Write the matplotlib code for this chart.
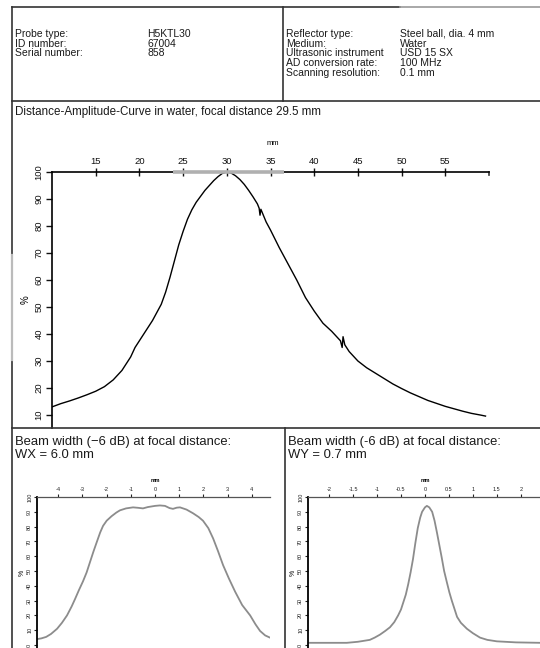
import matplotlib
matplotlib.use("Agg")
import matplotlib.pyplot as plt
from matplotlib.lines import Line2D

W, H = 540, 648
DPI = 100

# ---------------- data ----------------
header_left_labels = ["Probe type:", "ID number:", "Serial number:"]
header_left_values = ["H5KTL30", "67004", "858"]
header_right_labels = ["Reflector type:", "Medium:", "Ultrasonic instrument",
                       "AD conversion rate:", "Scanning resolution:"]
header_right_values = ["Steel ball, dia. 4 mm", "Water", "USD 15 SX", "100 MHz", "0.1 mm"]

dac_title = "Distance-Amplitude-Curve in water, focal distance 29.5 mm"
dac_x = [10.0, 11, 12, 13, 14, 15, 16, 17, 18, 19, 19.5, 20, 20.5, 21, 21.5, 22, 22.5, 23,
         23.5, 24, 24.5, 25, 25.5, 26, 26.5, 27, 27.5, 28, 28.5, 29, 29.5, 30, 30.5, 31,
         31.5, 32, 32.5, 33, 33.5, 33.7, 33.8, 33.9, 34.5, 35, 36, 37, 38, 39, 40, 41,
         42, 43, 43.2, 43.3, 43.5, 44, 45, 46, 47, 48, 49, 50, 51, 52, 53, 54, 55, 56,
         57, 58, 59, 59.6]
dac_y = [13.0, 14.2, 15.2, 16.3, 17.5, 18.8, 20.5, 23.0, 26.5, 31.5, 35.0, 37.5, 40.0,
         42.5, 45.0, 48.0, 51.0, 55.5, 61.0, 67.0, 73.0, 78.0, 82.5, 86.0, 88.8, 91.0,
         93.2, 95.0, 96.8, 98.3, 99.5, 100.0, 99.6, 98.6, 97.2, 95.4, 93.2, 90.8, 88.2,
         86.6, 84.0, 86.2, 81.5, 78.5, 72.0, 66.0, 60.0, 53.5, 48.5, 44.0, 41.0, 37.5,
         35.0, 39.0, 36.0, 33.5, 30.0, 27.5, 25.5, 23.5, 21.5, 19.8, 18.2, 16.8, 15.4,
         14.3, 13.2, 12.3, 11.4, 10.6, 10.0, 9.6]
dac_xticks = [15, 20, 25, 30, 35, 40, 45, 50, 55]
dac_yticks = [10, 20, 30, 40, 50, 60, 70, 80, 90, 100]
dac_focus_band = [23.8, 36.5]

wx_title = ["Beam width (\u22126 dB) at focal distance:", "WX = 6.0 mm"]
wx_x = [-4.88, -4.7, -4.5, -4.3, -4.05, -3.85, -3.64, -3.45, -3.31, -3.15, -2.98, -2.83,
        -2.69, -2.55, -2.40, -2.27, -2.15, -2.0, -1.8, -1.6, -1.45, -1.2, -0.91, -0.7,
        -0.5, -0.3, 0.0, 0.2, 0.41, 0.6, 0.74, 0.9, 1.03, 1.3, 1.57, 1.8, 1.98, 2.2,
        2.40, 2.6, 2.81, 3.05, 3.31, 3.6, 3.93, 4.15, 4.34, 4.55, 4.75]
wx_y = [4, 4.5, 5.5, 7.5, 11, 15, 20, 26, 31, 37, 43, 49, 56, 63, 70, 76, 80.5, 84, 87,
        89.5, 91, 92.3, 93, 92.7, 92.3, 93.2, 94, 94.3, 94, 92.5, 92, 92.8, 93, 91.5, 89,
        86.5, 84, 79, 72, 63.5, 54, 45, 36, 27, 20, 14, 9.5, 6.5, 5]
wx_xticks = [-4, -3, -2, -1, 0, 1, 2, 3, 4]

wy_title = ["Beam width (-6 dB) at focal distance:", "WY = 0.7 mm"]
wy_x = [-2.44, -1.63, -1.4, -1.15, -1.05, -0.94, -0.83, -0.73, -0.64, -0.56, -0.50,
        -0.46, -0.40, -0.35, -0.30, -0.25, -0.20, -0.15, -0.10, -0.06, 0.0, 0.04, 0.09,
        0.15, 0.20, 0.25, 0.30, 0.35, 0.40, 0.46, 0.51, 0.56, 0.62, 0.67, 0.75, 0.875,
        1.0, 1.15, 1.3, 1.5, 1.9, 2.4]
wy_y = [1.5, 1.5, 2.2, 3.5, 5, 7, 9.5, 12, 15.5, 20, 24, 28, 34, 41, 49, 58, 69, 79, 86,
        90, 93, 94, 93, 90, 84, 76, 67.5, 59, 50, 42, 35.5, 30, 24, 19, 15, 11, 8, 5,
        3.5, 2.5, 1.8, 1.5]
wy_xticks = [-2.0, -1.5, -1.0, -0.5, 0.0, 0.5, 1.0, 1.5, 2.0]
beam_yticks = [0, 10, 20, 30, 40, 50, 60, 70, 80, 90, 100]

# ---------------- figure ----------------
fig = plt.figure(figsize=(W / DPI, H / DPI), dpi=DPI)
plt.rcParams['font.family'] = ['Liberation Sans', 'DejaVu Sans']
TXT = '#1a1a1a'
tickfont = ['Liberation Sans Narrow', 'Liberation Sans', 'DejaVu Sans']

def px_axes(l, t, r, b):
    return fig.add_axes([l / W, 1 - b / H, (r - l) / W, (b - t) / H])

# overlay in pixel coordinates for document frame and text
ov = fig.add_axes([0, 0, 1, 1])
ov.set_xlim(0, W)
ov.set_ylim(H, 0)
ov.axis('off')
ov.set_zorder(5)
ov.patch.set_alpha(0)

frame_kw = dict(color='#333333', lw=1.2)
ov.add_line(Line2D([12, 400], [7, 7], **frame_kw))
ov.add_line(Line2D([400, W], [7, 7], color='#9a9a9a', lw=1.2))
ov.add_line(Line2D([12, 12], [7, H], **frame_kw))
ov.add_line(Line2D([12, 12], [255, 360], color='#bbbbbb', lw=1.6))
ov.add_line(Line2D([283, 283], [7, 101], **frame_kw))
ov.add_line(Line2D([12, W], [101, 101], **frame_kw))
ov.add_line(Line2D([12, W], [428, 428], **frame_kw))
ov.add_line(Line2D([285, 285], [428, H], **frame_kw))

hfs = 7.5
for i, (lab, val) in enumerate(zip(header_left_labels, header_left_values)):
    y = 34 + i * 9.7
    ov.text(15, y, lab, fontsize=hfs, color=TXT, va='center')
    ov.text(147, y, val, fontsize=hfs, color=TXT, va='center')
for i, (lab, val) in enumerate(zip(header_right_labels, header_right_values)):
    y = 34 + i * 9.7
    ov.text(286, y, lab, fontsize=hfs, color=TXT, va='center')
    ov.text(400, y, val, fontsize=hfs, color=TXT, va='center')

ov.text(15, 112, dac_title, fontsize=8.4, color=TXT, va='center')
bfs = 9.4
ov.text(15, 442, wx_title[0], fontsize=bfs, color=TXT, va='center')
ov.text(15, 455, wx_title[1], fontsize=bfs, color=TXT, va='center')
ov.text(288, 442, wy_title[0], fontsize=bfs, color=TXT, va='center')
ov.text(288, 455, wy_title[1], fontsize=bfs, color=TXT, va='center')

# ---------------- main DAC chart ----------------
ax = px_axes(52, 172, 489, 428)
ax.plot(dac_x, dac_y, color='black', lw=1.0)
ax.set_xlim(10, 60)
ax.set_ylim(100 - (428 - 172) / 2.7, 100)
ax.xaxis.tick_top()
ax.set_xticks(dac_xticks)
ax.set_yticks(dac_yticks)
ax.tick_params(axis='x', direction='inout', length=6, width=1.0, pad=1,
               labelsize=6.8, colors='#111111')
ax.tick_params(axis='y', direction='out', length=4, width=1.0, pad=2,
               labelsize=6.8, colors='#111111', labelrotation=90)
for lab in ax.get_xticklabels() + ax.get_yticklabels():
    lab.set_family(tickfont)
for lab in ax.get_yticklabels():
    lab.set_va('center')
ax.spines['right'].set_visible(False)
ax.spines['bottom'].set_visible(False)
ax.spines['top'].set_linewidth(1.2)
ax.spines['left'].set_linewidth(1.2)
ax.plot(dac_focus_band, [100, 100], color='#b0b0b0', lw=2.6, clip_on=False,
        solid_capstyle='butt', zorder=3)
ax.plot([60, 60], [100, 98.8], color='#333333', lw=1.2, clip_on=False)
ax.text(35.3, 110.7, 'mm', fontsize=5.5, va='center', ha='center', family=tickfont)
ax.set_ylabel('%', fontsize=7, labelpad=3, rotation=90, family=tickfont)
ax.patch.set_alpha(0)

# ---------------- beam width charts ----------------
def beam_axes(l, r, x, y, xticks, xlim):
    a = px_axes(l, 497, r, H)
    a.plot(x, y, color='#8c8c8c', lw=1.3)
    a.set_xlim(*xlim)
    a.set_ylim(-2, 100)
    a.xaxis.tick_top()
    a.set_xticks(xticks)
    a.set_xticklabels([('%g' % v) for v in xticks])
    a.set_yticks(beam_yticks)
    a.tick_params(axis='x', direction='out', length=2.5, width=0.8, pad=1,
                  labelsize=4.0, colors='#222222')
    a.tick_params(axis='y', direction='out', length=2.5, width=0.8, pad=1,
                  labelsize=4.0, colors='#222222', labelrotation=90)
    for lab in a.get_yticklabels():
        lab.set_va('center')
    for lab in a.get_xticklabels() + a.get_yticklabels():
        lab.set_family(tickfont)
    a.spines['right'].set_visible(False)
    a.spines['bottom'].set_visible(False)
    a.spines['left'].set_linewidth(1.3)
    a.spines['top'].set_linewidth(0.9)
    a.spines['top'].set_color('#555555')
    a.set_ylabel('%', fontsize=5, labelpad=1, family=tickfont)
    a.patch.set_alpha(0)
    a.text(0.0, 109.5, 'mm', fontsize=3.8, ha='center', va='bottom', family=tickfont,
           fontweight='bold')
    return a

beam_axes(37, 270, wx_x, wx_y, wx_xticks, (-4.88, 4.75))
beam_axes(308, 540, wy_x, wy_y, wy_xticks, (-2.44, 2.40))

fig.savefig('out.png', dpi=DPI)
